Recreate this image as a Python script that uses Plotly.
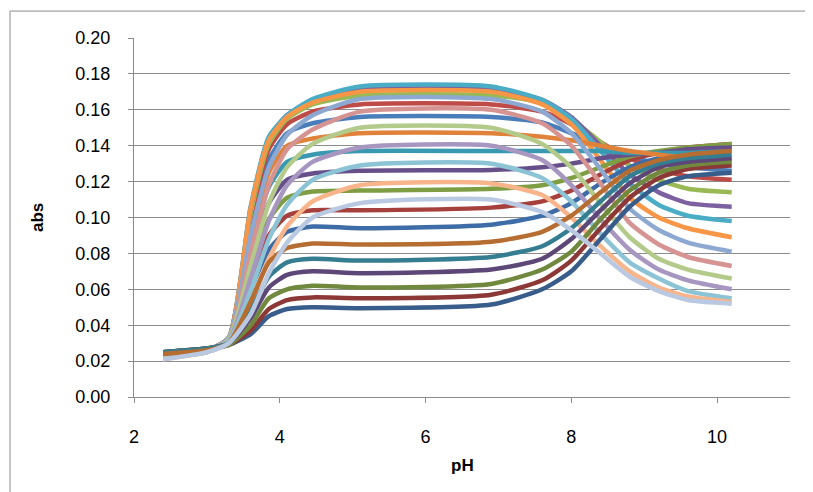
import plotly.graph_objects as go

# pH values (x positions of the measured points)
ph = [2.4, 3.0, 3.3, 3.6, 3.85, 4.1, 4.45, 5.1, 6.9, 7.6, 8.0, 8.4, 8.8, 9.2, 9.6, 10.2]

# absorbance series (Excel series order)
s1 = [0.024, 0.026, 0.032, 0.094, 0.132, 0.147, 0.1525, 0.156, 0.156, 0.153, 0.147, 0.140, 0.134, 0.130, 0.128, 0.126]
s2 = [0.024, 0.026, 0.033, 0.099, 0.138, 0.152, 0.159, 0.163, 0.163, 0.159, 0.152, 0.142, 0.133, 0.127, 0.123, 0.121]
s3 = [0.024, 0.026, 0.033, 0.102, 0.141, 0.155, 0.163, 0.168, 0.168, 0.164, 0.155, 0.142, 0.129, 0.121, 0.116, 0.114]
s4 = [0.024, 0.026, 0.033, 0.105, 0.144, 0.157, 0.165, 0.172, 0.172, 0.1655, 0.156, 0.140, 0.124, 0.114, 0.108, 0.106]
s5 = [0.024, 0.026, 0.033, 0.106, 0.145, 0.157, 0.166, 0.173, 0.173, 0.1655, 0.155, 0.137, 0.119, 0.107, 0.101, 0.098]
s6 = [0.023, 0.026, 0.033, 0.105, 0.143, 0.156, 0.164, 0.170, 0.170, 0.163, 0.152, 0.132, 0.111, 0.100, 0.094, 0.089]
s7 = [0.024, 0.026, 0.031, 0.060, 0.082, 0.092, 0.095, 0.094, 0.096, 0.101, 0.108, 0.119, 0.128, 0.133, 0.136, 0.139]
s8 = [0.024, 0.026, 0.031, 0.066, 0.090, 0.101, 0.104, 0.104, 0.1055, 0.109, 0.115, 0.124, 0.132, 0.136, 0.139, 0.141]
s9 = [0.024, 0.026, 0.031, 0.071, 0.099, 0.111, 0.1145, 0.115, 0.116, 0.118, 0.122, 0.128, 0.134, 0.137, 0.139, 0.141]
s10 = [0.024, 0.026, 0.031, 0.077, 0.108, 0.121, 0.1245, 0.126, 0.1265, 0.128, 0.130, 0.133, 0.135, 0.136, 0.138, 0.139]
s11 = [0.024, 0.026, 0.032, 0.083, 0.117, 0.131, 0.135, 0.137, 0.137, 0.137, 0.137, 0.137, 0.136, 0.136, 0.136, 0.137]
s12 = [0.023, 0.026, 0.032, 0.088, 0.125, 0.140, 0.144, 0.147, 0.147, 0.145, 0.143, 0.140, 0.137, 0.135, 0.133, 0.132]
s13 = [0.022, 0.026, 0.033, 0.090, 0.128, 0.146, 0.157, 0.166, 0.166, 0.159, 0.147, 0.127, 0.105, 0.093, 0.086, 0.081]
s14 = [0.022, 0.026, 0.032, 0.080, 0.118, 0.138, 0.149, 0.159, 0.160, 0.1525, 0.140, 0.119, 0.097, 0.085, 0.078, 0.073]
s15 = [0.022, 0.025, 0.032, 0.073, 0.108, 0.128, 0.141, 0.150, 0.150, 0.141, 0.128, 0.108, 0.089, 0.077, 0.071, 0.066]
s16 = [0.022, 0.025, 0.031, 0.066, 0.098, 0.118, 0.131, 0.139, 0.140, 0.132, 0.118, 0.099, 0.082, 0.071, 0.065, 0.060]
s17 = [0.022, 0.025, 0.031, 0.059, 0.088, 0.107, 0.121, 0.129, 0.130, 0.122, 0.109, 0.091, 0.075, 0.066, 0.059, 0.055]
s18 = [0.021, 0.025, 0.030, 0.052, 0.077, 0.095, 0.109, 0.118, 0.119, 0.1125, 0.100, 0.084, 0.070, 0.061, 0.056, 0.053]
s19 = [0.025, 0.027, 0.029, 0.035, 0.045, 0.049, 0.050, 0.0495, 0.0515, 0.060, 0.070, 0.088, 0.106, 0.118, 0.123, 0.125]
s20 = [0.025, 0.027, 0.029, 0.037, 0.049, 0.054, 0.0555, 0.055, 0.057, 0.065, 0.076, 0.094, 0.111, 0.122, 0.127, 0.129]
s21 = [0.025, 0.027, 0.029, 0.040, 0.055, 0.060, 0.062, 0.061, 0.063, 0.071, 0.081, 0.099, 0.115, 0.125, 0.129, 0.131]
s22 = [0.025, 0.027, 0.030, 0.044, 0.061, 0.068, 0.070, 0.069, 0.071, 0.077, 0.088, 0.104, 0.119, 0.128, 0.131, 0.133]
s23 = [0.025, 0.027, 0.030, 0.048, 0.067, 0.075, 0.077, 0.076, 0.078, 0.084, 0.094, 0.109, 0.123, 0.130, 0.133, 0.135]
s24 = [0.024, 0.026, 0.030, 0.053, 0.075, 0.083, 0.0855, 0.085, 0.0865, 0.092, 0.101, 0.114, 0.126, 0.132, 0.135, 0.137]
s25 = [0.021, 0.025, 0.030, 0.046, 0.069, 0.086, 0.100, 0.108, 0.110, 0.103, 0.093, 0.080, 0.067, 0.059, 0.054, 0.052]

series = [s1, s2, s3, s4, s5, s6, s7, s8, s9, s10, s11, s12, s13,
          s14, s15, s16, s17, s18, s19, s20, s21, s22, s23, s24, s25]

colors = [
    "#4A7EBB", "#BE4B48", "#98B954", "#7D60A0", "#4BACC6", "#F79646",
    "#3E6CA6", "#A5403D", "#7F9E44", "#67508A", "#3899B0", "#E0823A",
    "#8EA9D1", "#D59391", "#B4CA8B", "#A797C0", "#8CC4D6", "#F8B48A",
    "#385D8A", "#8C3836", "#71893F", "#5C4776", "#357D91", "#B66D31",
    "#B8C9E1",
]

y_ticks = [0.00, 0.02, 0.04, 0.06, 0.08, 0.10, 0.12, 0.14, 0.16, 0.18, 0.20]
x_ticks = [2, 4, 6, 8, 10]

fig = go.Figure()
for i, (vals, col) in enumerate(zip(series, colors)):
    fig.add_trace(go.Scatter(
        x=ph, y=vals, mode="lines", name=f"Series{i+1}",
        line=dict(color=col, width=4.5, shape="spline", smoothing=0.6),
        showlegend=False,
    ))

grid = "#8C8C8C"
font_family = "Liberation Sans Narrow, Liberation Sans, Arial, sans-serif"

fig.update_layout(
    width=813, height=492,
    margin=dict(l=126, r=31, t=30, b=103),
    paper_bgcolor="white", plot_bgcolor="white",
    font=dict(family=font_family, color="#000000"),
    xaxis=dict(
        range=[2, 11], tickvals=x_ticks, ticktext=[str(v) for v in x_ticks],
        showgrid=False, zeroline=False,
        showline=True, linecolor=grid, linewidth=1,
        ticks="outside", ticklen=5, tickcolor=grid,
        tickfont=dict(size=18), ticklabelstandoff=18,
    ),
    yaxis=dict(
        range=[0, 0.20], tickvals=y_ticks, ticktext=[f"{v:.2f}" for v in y_ticks],
        showgrid=True, gridcolor=grid, gridwidth=1, zeroline=False,
        showline=True, linecolor=grid, linewidth=1,
        ticks="outside", ticklen=5, tickcolor=grid,
        tickfont=dict(size=18), ticklabelstandoff=14,
    ),
    annotations=[
        dict(text="<b>pH</b>", xref="paper", yref="paper", x=0.5, y=-0.192,
             showarrow=False, font=dict(size=17, family="Liberation Sans, Arial"),
             xanchor="center", yanchor="middle"),
        dict(text="<b>abs</b>", xref="paper", yref="paper", x=-0.147, y=0.5,
             showarrow=False, textangle=-90, font=dict(size=17, family="Liberation Sans, Arial"),
             xanchor="center", yanchor="middle"),
    ],
    shapes=[
        dict(type="rect", xref="paper", yref="paper",
             x0=-0.189, x1=1.0325, y0=-0.3, y1=1.075,
             line=dict(color="#8C8C8C", width=1), fillcolor="rgba(0,0,0,0)",
             layer="below"),
        dict(type="line", xref="paper", yref="paper",
             x0=-0.2035, x1=-0.2035, y0=-0.08, y1=0.2,
             line=dict(color="#D0D0D0", width=1)),
    ],
)

fig.write_html("out.html")
